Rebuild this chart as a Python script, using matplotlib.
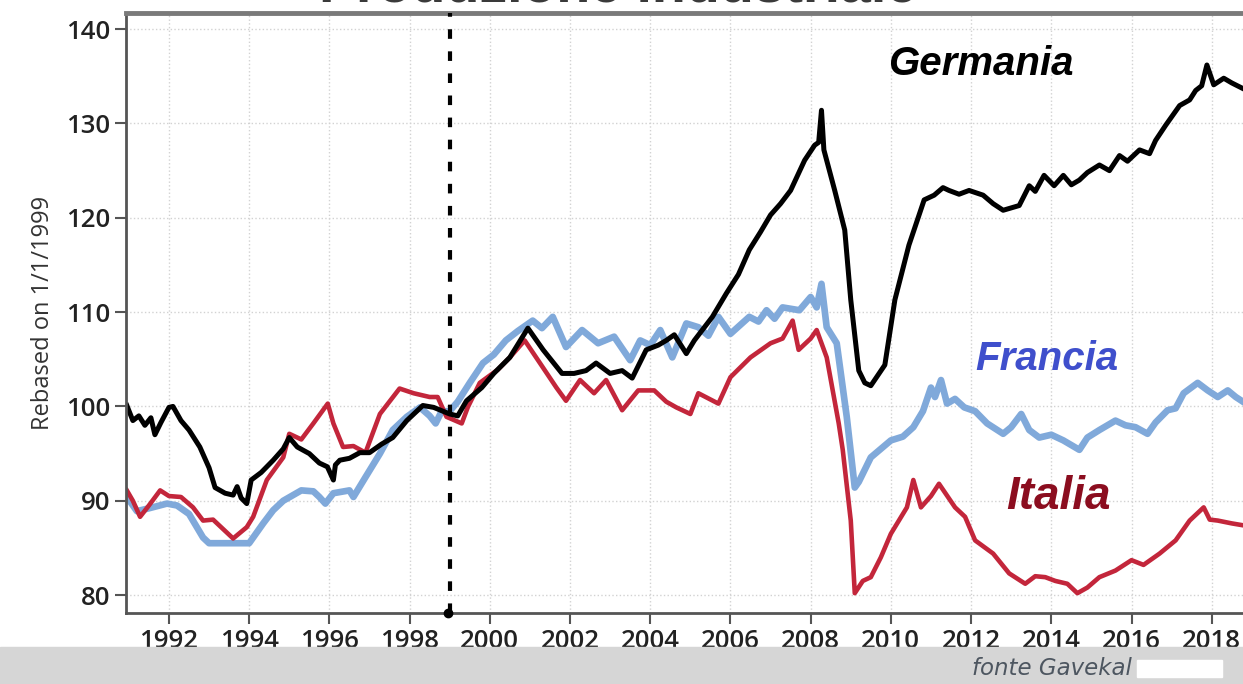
import matplotlib
matplotlib.use("Agg")
import matplotlib.pyplot as plt
from matplotlib.patches import Rectangle

# industrial production, rebased on 1/1/1999 (year, index)
germania = [(1990.95, 100.1), (1991.1, 98.5), (1991.25, 99), (1991.4, 98), (1991.55, 98.8),
            (1991.65, 97), (1991.8, 98.3), (1992.0, 99.9), (1992.1, 100), (1992.3, 98.5),
            (1992.5, 97.5), (1992.77, 95.7), (1993.0, 93.5), (1993.15, 91.4), (1993.4, 90.8),
            (1993.6, 90.6), (1993.7, 91.5), (1993.8, 90.3), (1993.94, 89.7), (1994.05, 92.2),
            (1994.3, 93), (1994.6, 94.3), (1994.85, 95.5), (1995.0, 96.7), (1995.2, 95.7),
            (1995.5, 95), (1995.75, 94), (1995.95, 93.6), (1996.1, 92.2), (1996.15, 93.8),
            (1996.26, 94.3), (1996.5, 94.5), (1996.76, 95.1), (1997.0, 95.1), (1997.3, 96),
            (1997.58, 96.7), (1997.93, 98.5), (1998.33, 100.1), (1998.6, 99.9), (1999.0, 99.2),
            (1999.2, 99), (1999.42, 100.6), (1999.8, 102), (2000.1, 103.5), (2000.5, 105.2),
            (2000.95, 108.3), (2001.33, 106), (2001.8, 103.5), (2002.1, 103.5), (2002.4, 103.8),
            (2002.65, 104.6), (2003.0, 103.5), (2003.3, 103.8), (2003.55, 103), (2003.9, 106),
            (2004.2, 106.5), (2004.4, 107), (2004.6, 107.6), (2004.9, 105.6), (2005.1, 107),
            (2005.55, 109.5), (2005.9, 112), (2006.2, 114), (2006.47, 116.6), (2006.75, 118.5),
            (2007.0, 120.3), (2007.25, 121.5), (2007.5, 122.9), (2007.85, 126.1), (2008.1, 127.7),
            (2008.2, 128), (2008.27, 131.4), (2008.33, 127.2), (2008.6, 122.9), (2008.85, 118.7),
            (2009.0, 111.3), (2009.2, 103.8), (2009.35, 102.5), (2009.5, 102.2), (2009.85, 104.4),
            (2010.1, 111.3), (2010.45, 117.1), (2010.83, 121.9), (2011.08, 122.4), (2011.3, 123.2),
            (2011.45, 122.9), (2011.7, 122.5), (2011.95, 122.9), (2012.3, 122.4), (2012.55, 121.5),
            (2012.8, 120.8), (2013.2, 121.3), (2013.45, 123.4), (2013.6, 122.8), (2013.82, 124.5),
            (2014.07, 123.4), (2014.3, 124.5), (2014.5, 123.5), (2014.7, 124), (2014.9, 124.8),
            (2015.2, 125.6), (2015.45, 125), (2015.7, 126.6), (2015.9, 126), (2016.2, 127.2),
            (2016.45, 126.8), (2016.6, 128.2), (2016.85, 129.8), (2017.2, 131.9), (2017.45, 132.5),
            (2017.6, 133.5), (2017.75, 134), (2017.88, 136.2), (2018.05, 134.1), (2018.3, 134.8),
            (2018.5, 134.3), (2018.78, 133.7)]

francia = [(1990.95, 90.4), (1991.2, 88.9), (1991.5, 89.2), (1991.95, 89.7), (1992.2, 89.5),
           (1992.5, 88.6), (1992.85, 86.1), (1993.0, 85.5), (1993.6, 85.5), (1994.0, 85.5),
           (1994.35, 87.6), (1994.6, 89), (1994.85, 90), (1995.3, 91.1), (1995.6, 91),
           (1995.75, 90.4), (1995.9, 89.7), (1996.1, 90.8), (1996.5, 91.1), (1996.6, 90.4),
           (1996.9, 92.5), (1997.26, 95), (1997.58, 97.5), (1997.93, 98.9), (1998.26, 99.9),
           (1998.5, 99), (1998.65, 98.2), (1998.8, 99.5), (1999.0, 99.5), (1999.2, 100.5),
           (1999.5, 102.5), (1999.83, 104.6), (2000.1, 105.5), (2000.4, 107), (2000.7, 108),
           (2001.07, 109.1), (2001.3, 108.3), (2001.57, 109.5), (2001.9, 106.3), (2002.3, 108.1),
           (2002.7, 106.7), (2003.1, 107.4), (2003.5, 104.9), (2003.75, 107), (2004.0, 106.5),
           (2004.25, 108.1), (2004.55, 105.2), (2004.9, 108.8), (2005.2, 108.4), (2005.45, 107.5),
           (2005.7, 109.5), (2006.0, 107.7), (2006.47, 109.5), (2006.7, 109), (2006.9, 110.2),
           (2007.1, 109.3), (2007.3, 110.5), (2007.72, 110.2), (2008.0, 111.6), (2008.15, 110.5),
           (2008.27, 113), (2008.4, 108.4), (2008.65, 106.7), (2008.9, 98.9), (2009.1, 91.4),
           (2009.2, 92), (2009.5, 94.6), (2010.0, 96.4), (2010.3, 96.8), (2010.56, 97.8),
           (2010.8, 99.5), (2011.0, 102), (2011.1, 101), (2011.25, 102.8), (2011.4, 100.3),
           (2011.6, 100.8), (2011.83, 99.9), (2012.1, 99.5), (2012.4, 98.2), (2012.8, 97.1),
           (2013.0, 97.8), (2013.25, 99.2), (2013.45, 97.5), (2013.7, 96.7), (2014.0, 97),
           (2014.3, 96.4), (2014.7, 95.4), (2014.9, 96.7), (2015.2, 97.5), (2015.6, 98.5),
           (2015.85, 98), (2016.1, 97.8), (2016.4, 97.1), (2016.6, 98.3), (2016.9, 99.6),
           (2017.1, 99.8), (2017.3, 101.4), (2017.65, 102.5), (2017.9, 101.7), (2018.15, 101),
           (2018.4, 101.7), (2018.6, 101), (2018.78, 100.5)]

italia = [(1990.95, 91.1), (1991.1, 90), (1991.28, 88.3), (1991.5, 89.5), (1991.78, 91.1),
          (1992.0, 90.5), (1992.3, 90.4), (1992.6, 89.3), (1992.85, 87.9), (1993.1, 88),
          (1993.35, 87), (1993.6, 86), (1993.94, 87.2), (1994.1, 88.3), (1994.44, 92.2),
          (1994.85, 94.6), (1995.0, 97.1), (1995.3, 96.5), (1995.6, 98.2), (1995.96, 100.3),
          (1996.1, 98.2), (1996.34, 95.7), (1996.6, 95.8), (1996.9, 95.1), (1997.26, 99.2),
          (1997.75, 101.9), (1998.1, 101.4), (1998.5, 101), (1998.7, 101), (1998.92, 98.9),
          (1999.3, 98.2), (1999.45, 99.9), (1999.75, 102.5), (2000.2, 103.9), (2000.5, 105.2),
          (2000.87, 107), (2001.25, 104.6), (2001.66, 102), (2001.9, 100.6), (2002.25, 102.8),
          (2002.6, 101.4), (2002.9, 102.8), (2003.3, 99.6), (2003.7, 101.7), (2004.1, 101.7),
          (2004.4, 100.5), (2004.65, 99.9), (2005.0, 99.2), (2005.2, 101.4), (2005.7, 100.3),
          (2006.0, 103.1), (2006.5, 105.2), (2007.0, 106.7), (2007.3, 107.2), (2007.55, 109.1),
          (2007.7, 106), (2008.0, 107.2), (2008.15, 108.1), (2008.4, 105.2), (2008.7, 98.2),
          (2008.8, 95.4), (2009.0, 87.9), (2009.1, 80.2), (2009.3, 81.5), (2009.5, 81.9),
          (2009.75, 84), (2010.0, 86.5), (2010.4, 89.3), (2010.56, 92.2), (2010.75, 89.3),
          (2011.0, 90.5), (2011.2, 91.8), (2011.6, 89.3), (2011.85, 88.3), (2012.1, 85.8),
          (2012.55, 84.4), (2012.95, 82.3), (2013.35, 81.2), (2013.6, 82), (2013.85, 81.9),
          (2014.1, 81.5), (2014.4, 81.2), (2014.65, 80.2), (2014.9, 80.8), (2015.2, 81.9),
          (2015.6, 82.6), (2016.0, 83.7), (2016.3, 83.2), (2016.7, 84.4), (2017.1, 85.8),
          (2017.45, 87.9), (2017.8, 89.3), (2017.95, 88), (2018.15, 87.9), (2018.5, 87.6),
          (2018.78, 87.4)]

year_ticks = list(range(1992, 2019, 2))
value_ticks = [80, 90, 100, 110, 120, 130, 140]
euro_start = 1999.0


fig = plt.figure(figsize=(12.43, 6.84), dpi=100)
ax = fig.add_axes([0.1014, 0.1038, 0.8986, 0.877])

# grey band at the bottom of the screenshot
fig.patches.append(Rectangle((0, 0), 1, 0.054, transform=fig.transFigure,
                             color="#d6d6d6", zorder=0))
fig.patches.append(Rectangle((0.915, 0.010), 0.068, 0.025, transform=fig.transFigure,
                             color="white", zorder=1))

for data, col, lw in [(francia, "#80a9da", 4.8), (italia, "#c3263b", 3.3), (germania, "black", 3.6)]:
    xs = [p[0] for p in data]
    ys = [p[1] for p in data]
    ax.plot(xs, ys, color=col, lw=lw, solid_joinstyle="round")

ax.axvline(euro_start, color="black", lw=3, ls=(0, (2.3, 3.0)), zorder=5)
ax.plot([euro_start - 0.05], [78.1], "o", color="black", ms=6, clip_on=False, zorder=6)

ax.set_xlim(1990.93, 2018.78)
ax.set_ylim(78.1, 141.7)
ax.set_xticks(year_ticks)
ax.set_yticks(value_ticks)
ax.grid(True, ls=":", color="#d2d2d2", lw=1)

for s in ["left", "bottom"]:
    ax.spines[s].set_color("#555555")
    ax.spines[s].set_linewidth(2)
ax.spines["top"].set_color("#7a7a7a")
ax.spines["top"].set_linewidth(3.5)
ax.spines["right"].set_visible(False)

ax.tick_params(direction="out", length=8, width=1.5, color="#555555",
               labelsize=18.5, labelcolor="#222222")
for lab in ax.get_xticklabels() + ax.get_yticklabels():
    lab.set_fontfamily("Open Sans")
    lab.set_fontweight("semibold")

ax.set_ylabel("Rebased on 1/1/1999", fontsize=17, family="Open Sans",
              color="#333333", labelpad=8)

ax.text(2012.23, 136.3, "Germania", fontsize=29, fontweight="bold", style="italic",
        family="Liberation Sans", color="black", ha="center", va="center")
ax.text(2013.9, 105.0, "Francia", fontsize=29, fontweight="bold", style="italic",
        family="Liberation Sans", color="#3f4fcc", ha="center", va="center")
ax.text(2014.17, 90.4, "Italia", fontsize=33, fontweight="bold", style="italic",
        family="Liberation Sans", color="#8b0d1f", ha="center", va="center")

# title cut off at the top of the screenshot
fig.text(0.497, 1 - 2 / 684, "Produzione industriale", fontsize=40, fontweight="bold",
         family="Liberation Sans", color="#3a3a3a", ha="center", va="baseline")

fig.text(0.846, 0.023, "fonte Gavekal", fontsize=16.5, style="italic",
         family="DejaVu Sans", color="#4d5660", ha="center", va="center")

fig.savefig("out.png", dpi=100)
